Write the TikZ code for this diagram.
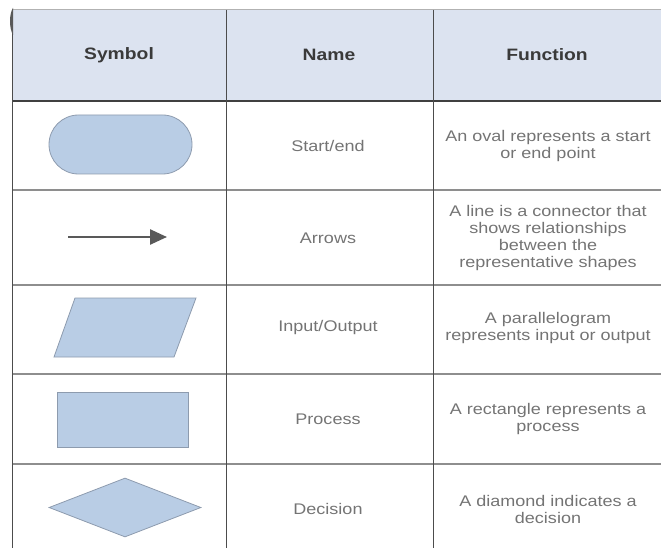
\documentclass[tikz,border=0pt]{standalone}
\usepackage{fontspec}
\setmainfont{Liberation Sans}[FakeStretch=1.17]
\usetikzlibrary{shapes.geometric,shapes.misc,arrows.meta}
\definecolor{headfill}{HTML}{DCE3F0}
\definecolor{shapefill}{HTML}{B9CDE5}
\definecolor{shapeline}{HTML}{8D9BAE}
\definecolor{bodytext}{HTML}{747474}
\definecolor{headtext}{HTML}{3A3A3A}
\definecolor{rulegray}{HTML}{8E8E8E}

\begin{document}
\begin{tikzpicture}[x=1pt,y=-1pt,
    head/.style={font=\fontsize{16.5}{19}\selectfont\bfseries,text=headtext},
    cell/.style={font=\fontsize{15.4}{17}\selectfont,text=bodytext,align=center,inner sep=0pt},
    symb/.style={draw=shapeline,fill=shapefill,line width=0.8pt,inner sep=0pt}]
  \useasboundingbox (0,0) rectangle (661,548);
  \begin{scope}
    \clip (0,0) rectangle (661,548);
    \fill[headfill] (12,10) rectangle (670,101);
    \draw[black!30,line width=1pt] (12,10) -- (670,10);
    \foreach \y in {190,285,374,464}
      \draw[rulegray,line width=1.5pt] (12,\y) -- (670,\y);
    \draw[black!75,line width=1.2pt] (12,101) -- (670,101);
    \foreach \x in {12,226,433}
      \draw[black!70,line width=1pt] (\x,10) -- (\x,560);
    \fill[black!65] (13,8) .. controls (9,14) and (9,28) .. (13,35) -- cycle;
  \end{scope}

  \node[head] (hsym) at (119,55) {Symbol};
  \node[head] (hname) at (329,55) {Name};
  \node[head] (hfun) at (547,55) {Function};

  \node[symb,rounded rectangle,minimum width=143,minimum height=59] (oval) at (120.5,144.5) {};
  \node[cell] (nstart) at (328,146) {Start/end};
  \node[cell] (fstart) at (548,146) {An oval represents a start\\or end point};

  \coordinate (arrS) at (68,237);
  \coordinate (arrE) at (167,237);
  \draw[-{Triangle[length=17pt,width=15pt]},line width=2.5pt,black!65] (arrS) -- (arrE);
  \node[cell] (narrow) at (328,238) {Arrows};
  \node[cell] (farrow) at (548,238) {A line is a connector that\\shows relationships\\between the\\representative shapes};

  \draw[symb] (54,357) -- (174,357) -- (196,298) -- (75,298) -- cycle;
  \node[cell] (nio) at (328,328) {Input/Output};
  \node[cell] (fio) at (548,328) {A parallelogram\\represents input or output};

  \node[symb,rectangle,minimum width=131,minimum height=55] (proc) at (122.5,419.5) {};
  \node[cell] (nproc) at (328,419) {Process};
  \node[cell] (fproc) at (548,419) {A rectangle represents a\\process};

  \node[symb,diamond,minimum width=152,minimum height=59] (dec) at (125,507.5) {};
  \node[cell] (ndec) at (328,509) {Decision};
  \node[cell] (fdec) at (548,509) {A diamond indicates a\\decision};
\end{tikzpicture}
\end{document}
